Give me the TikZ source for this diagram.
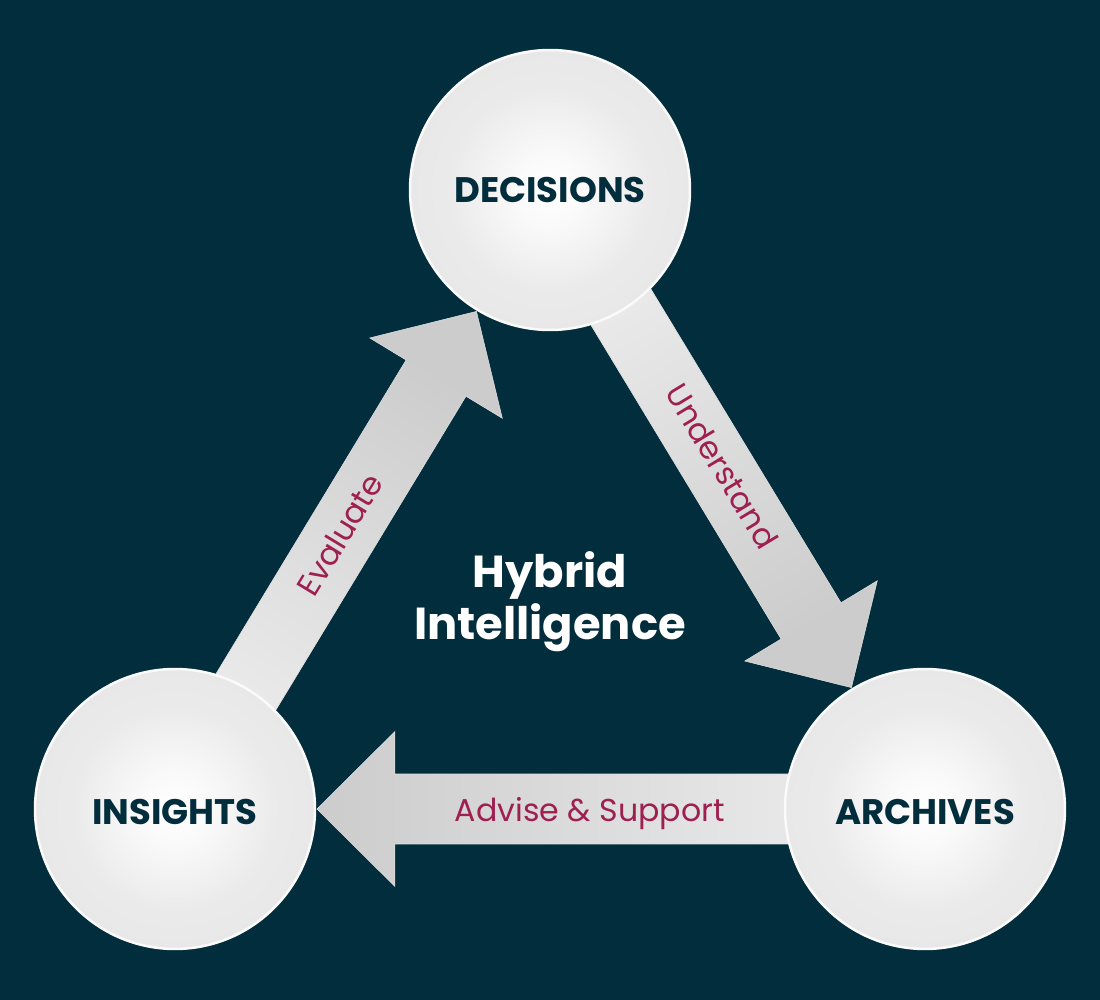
\documentclass[tikz,border=0pt]{standalone}
\usepackage{fontspec}
\setmainfont{Poppins}
\usetikzlibrary{calc}

\definecolor{bgdark}{HTML}{022D3C}
\definecolor{labelred}{HTML}{9E2050}

\pgfdeclareradialshading{discshade}{\pgfpointorigin}{color(0bp)=(white); color(6bp)=(white!98!black); color(18bp)=(white!92!black); color(25bp)=(white!91!black); color(50bp)=(white!91!black)}

\tikzset{
	disc/.style={circle, draw=white!98!black, line width=0.05cm, minimum size=5.6cm, inner sep=0pt, shading=discshade, text=bgdark, font=\bfseries\fontsize{20.2}{21}\selectfont},
	arrowbody/.style={draw=white!88!black, line width=0.3pt, top color=white!80!black, bottom color=white!94!black},
	arrowtext/.style={sloped, text=labelred, font=\fontsize{18}{18}\selectfont},
}

\begin{document}
\begin{tikzpicture}[x=0.02cm, y=-0.02cm]
	\fill[bgdark] (0,0) rectangle (1100,1000);
	\useasboundingbox (0,0) rectangle (1100,1000);

	\coordinate (decisionspos) at (550,190);
	\coordinate (insightspos) at (175,809);
	\coordinate (archivespos) at (925,809);

	% arrows first, the discs hide their tails
	\foreach \from/\to/\ang in {insightspos/decisionspos/-31.2, decisionspos/archivespos/-148.8, archivespos/insightspos/90} {
		\coordinate (tip) at ($(\to)!2.84cm!(\from)$);
		\coordinate (base) at ($(\to)!4.4cm!(\from)$);
		\shade[arrowbody, shading angle=\ang]
			($(\from)!0.7cm!-90:(\to)$) -- ($(base)!0.7cm!-90:(\to)$) -- ($(base)!1.55cm!-90:(\to)$) -- (tip)
			-- ($(base)!1.55cm!90:(\to)$) -- ($(base)!0.7cm!90:(\to)$) -- ($(\from)!0.7cm!90:(\to)$) -- cycle;
	}

	\foreach \from/\to/\where/\dy/\nm/\txt in {insightspos/decisionspos/0.44/-2/evaluate/Evaluate, decisionspos/archivespos/0.459/-8/understand/Understand, archivespos/insightspos/0.447/4.5/advise/Advise \& Support}
		\path ($(\from)+(0,\dy)$) -- node[arrowtext, pos=\where] (\nm) {\txt} ($(\to)+(0,\dy)$);

	\node[disc] (decisions) at (decisionspos) {DECISIONS};
	\node[disc] (insights) at (insightspos) {\raisebox{-0.06cm}[\height][0pt]{INSIGHTS}};
	\node[disc] (archives) at (archivespos) {\raisebox{-0.06cm}[\height][0pt]{ARCHIVES}};

	\node[text=white, align=center, font=\fontsize{25.5}{29.5}\selectfont\bfseries] (hybrid) at (550,602) {Hybrid\\Intelligence};
\end{tikzpicture}
\end{document}
